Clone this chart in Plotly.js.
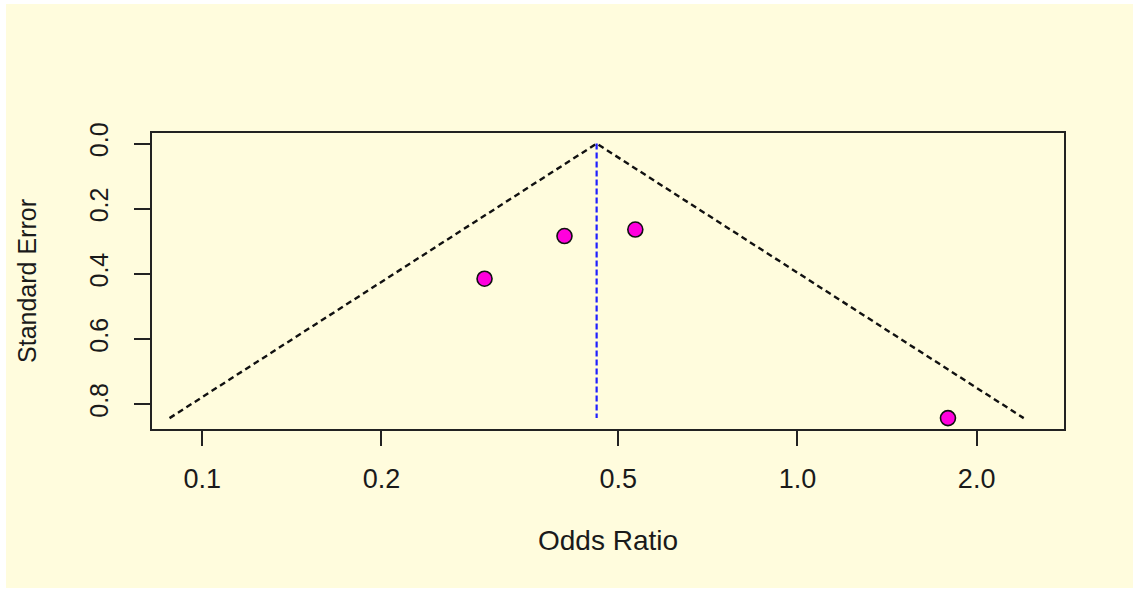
<!DOCTYPE html>
<html>
<head>
<meta charset="utf-8">
<script src="https://cdn.plot.ly/plotly-3.0.1.min.js"></script>
<style>
  html, body { margin: 0; padding: 0; background: #ffffff; }
  #chart { position: absolute; left: 6px; top: 4px; width: 1127px; height: 584px; }
</style>
</head>
<body>
<div id="chart"></div>
<script>
// Study-level effect sizes (odds ratios) and their standard errors
const oddsRatios = [0.298, 0.406, 0.534, 1.79];
const standardErrors = [0.415, 0.284, 0.264, 0.843];

// Axis ticks
const xTickVals = [0.1, 0.2, 0.5, 1.0, 2.0];
const xTickText = ["0.1", "0.2", "0.5", "1.0", "2.0"];
const yTickVals = [0.0, 0.2, 0.4, 0.6, 0.8];
const yTickText = ["0.0", "0.2", "0.4", "0.6", "0.8"];

// Fixed-effect (inverse-variance) pooled log odds ratio
let wSum = 0, wxSum = 0;
for (let i = 0; i < oddsRatios.length; i++) {
  const w = 1 / (standardErrors[i] * standardErrors[i]);
  wSum += w;
  wxSum += w * Math.log(oddsRatios[i]);
}
const pooledLog = wxSum / wSum;
const pooled = Math.exp(pooledLog);
const seMax = Math.max(...standardErrors);

// Pseudo 95% confidence region
const funnelX = [
  Math.exp(pooledLog - 1.96 * seMax),
  pooled,
  Math.exp(pooledLog + 1.96 * seMax)
];
const funnelY = [seMax, 0, seMax];

const textColor = "#1a1a1a";
const fontFamily = "Liberation Sans, Arial, sans-serif";

const traces = [
  {
    x: funnelX, y: funnelY, type: "scatter", mode: "lines",
    line: { color: "#111111", width: 2.4, dash: "6px,4px" },
    hoverinfo: "skip", showlegend: false
  },
  {
    x: [pooled, pooled], y: [0, seMax], type: "scatter", mode: "lines",
    line: { color: "#1f1fff", width: 2.2, dash: "6px,3px" },
    hoverinfo: "skip", showlegend: false
  },
  {
    x: oddsRatios, y: standardErrors, type: "scatter", mode: "markers",
    marker: { color: "#ff00dd", size: 15, line: { color: "#111111", width: 1.6 } },
    showlegend: false
  }
];

const layout = {
  width: 1127, height: 584,
  paper_bgcolor: "#fffcdd",
  plot_bgcolor: "#fffcdd",
  margin: { l: 146, r: 69, t: 129, b: 159 },
  font: { family: fontFamily, color: textColor },
  xaxis: {
    type: "log",
    range: [-1.0845, 0.4478],
    tickvals: xTickVals, ticktext: xTickText,
    ticks: "outside", ticklen: 15, tickwidth: 2, tickcolor: "#222222",
    ticklabelstandoff: 10,
    tickfont: { size: 27, color: textColor },
    showgrid: false, zeroline: false,
    showline: true, linecolor: "#222222", linewidth: 2, mirror: true,
    title: { text: "Odds Ratio", font: { size: 28, color: textColor }, standoff: 37 }
  },
  yaxis: {
    range: [0.8764, -0.0325],
    tickvals: yTickVals, ticktext: yTickText,
    tickangle: -90,
    ticks: "outside", ticklen: 16, tickwidth: 2, tickcolor: "#222222",
    ticklabelstandoff: 16,
    tickfont: { size: 25, color: textColor },
    showgrid: false, zeroline: false,
    showline: true, linecolor: "#222222", linewidth: 2, mirror: true,
    title: { text: "Standard Error", font: { size: 25, color: textColor }, standoff: 41 }
  }
};

Plotly.newPlot("chart", traces, layout, { displayModeBar: false, staticPlot: true });
</script>
</body>
</html>
